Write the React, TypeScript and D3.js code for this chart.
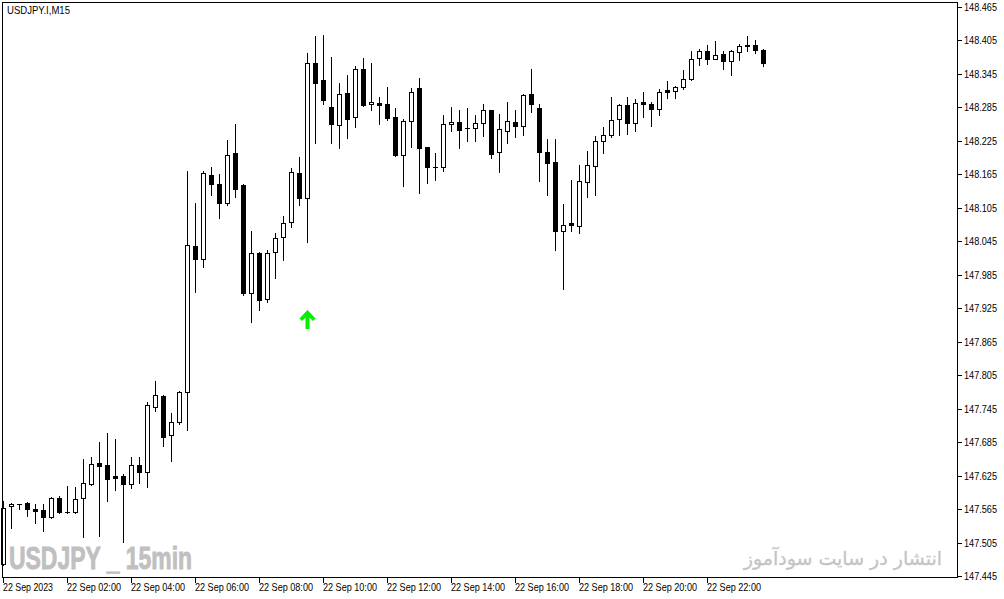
import React from 'react';
import * as d3 from 'd3';

// 15-minute candles, 22 Sep 2023 00:00 .. 23:45
const openValues = [
  147.466, 147.570, 147.574, 147.576, 147.565, 147.563, 147.551, 147.585, 147.560, 147.560,
  147.585, 147.610, 147.648, 147.644, 147.624, 147.624, 147.610, 147.644, 147.631, 147.748,
  147.768, 147.698, 147.721, 147.775, 148.037, 148.013, 148.164, 148.148, 148.114, 148.203,
  148.146, 147.952, 148.024, 147.942, 148.026, 148.053, 148.080, 148.167, 148.123, 148.365,
  148.334, 148.286, 148.253, 148.311, 148.268, 148.354, 148.291, 148.293, 148.291, 148.268,
  148.200, 148.261, 148.320, 148.214, 148.178, 148.178, 148.255, 148.259, 148.248, 148.248,
  148.257, 148.280, 148.205, 148.243, 148.259, 148.252, 148.309, 148.284, 148.205, 148.187,
  148.063, 148.078, 148.072, 148.151, 148.180, 148.225, 148.236, 148.264, 148.289, 148.257,
  148.295, 148.291, 148.282, 148.316, 148.314, 148.322, 148.336, 148.374, 148.386, 148.372,
  148.381, 148.368, 148.384, 148.397, 148.397, 148.388,
];
const highValues = [
  147.579, 147.576, 147.574, 147.578, 147.574, 147.574, 147.587, 147.588, 147.606, 147.605,
  147.655, 147.658, 147.685, 147.701, 147.691, 147.628, 147.658, 147.658, 147.757, 147.795,
  147.769, 147.737, 147.777, 148.171, 148.114, 148.171, 148.178, 148.166, 148.227, 148.255,
  148.148, 148.063, 148.026, 148.029, 148.060, 148.090, 148.176, 148.196, 148.383, 148.413,
  148.415, 148.375, 148.329, 148.343, 148.359, 148.374, 148.365, 148.304, 148.322, 148.284,
  148.264, 148.320, 148.338, 148.214, 148.203, 148.271, 148.286, 148.280, 148.284, 148.271,
  148.291, 148.280, 148.273, 148.295, 148.280, 148.309, 148.354, 148.291, 148.228, 148.228,
  148.112, 148.155, 148.182, 148.207, 148.234, 148.250, 148.304, 148.291, 148.304, 148.300,
  148.313, 148.295, 148.318, 148.332, 148.323, 148.352, 148.386, 148.390, 148.397, 148.404,
  148.386, 148.388, 148.399, 148.413, 148.406, 148.390,
];
const lowValues = [
  147.465, 147.531, 147.565, 147.553, 147.540, 147.526, 147.549, 147.558, 147.558, 147.558,
  147.515, 147.608, 147.517, 147.579, 147.599, 147.506, 147.603, 147.612, 147.605, 147.741,
  147.678, 147.651, 147.717, 147.707, 147.954, 147.999, 148.128, 148.087, 148.110, 148.124,
  147.949, 147.900, 147.922, 147.936, 147.979, 148.011, 148.071, 148.110, 148.044, 148.221,
  148.291, 148.221, 148.212, 148.230, 148.250, 148.288, 148.280, 148.255, 148.262, 148.198,
  148.144, 148.214, 148.132, 148.150, 148.155, 148.171, 148.243, 148.212, 148.225, 148.225,
  148.234, 148.194, 148.169, 148.221, 148.232, 148.236, 148.277, 148.153, 148.128, 148.029,
  147.959, 148.063, 148.060, 148.124, 148.128, 148.203, 148.232, 148.236, 148.237, 148.243,
  148.268, 148.252, 148.271, 148.302, 148.302, 148.318, 148.334, 148.361, 148.363, 148.372,
  148.354, 148.343, 148.370, 148.386, 148.383, 148.359,
];
const closeValues = [
  147.567, 147.574, 147.574, 147.565, 147.561, 147.551, 147.585, 147.560, 147.560, 147.583,
  147.612, 147.646, 147.642, 147.619, 147.621, 147.610, 147.644, 147.631, 147.752, 147.769,
  147.694, 147.721, 147.775, 148.038, 148.013, 148.167, 148.148, 148.114, 148.200, 148.139,
  147.952, 148.024, 147.940, 148.024, 148.051, 148.078, 148.169, 148.123, 148.365, 148.329,
  148.298, 148.255, 148.309, 148.264, 148.354, 148.289, 148.295, 148.289, 148.266, 148.200,
  148.261, 148.313, 148.212, 148.178, 148.178, 148.255, 148.259, 148.245, 148.248, 148.257,
  148.280, 148.202, 148.246, 148.261, 148.252, 148.307, 148.291, 148.205, 148.185, 148.063,
  148.074, 148.074, 148.153, 148.182, 148.225, 148.236, 148.262, 148.289, 148.257, 148.293,
  148.291, 148.282, 148.313, 148.313, 148.322, 148.336, 148.372, 148.386, 148.372, 148.379,
  148.368, 148.386, 148.395, 148.395, 148.388, 148.365,
];

const priceTickLabels = [
  '148.465', '148.405', '148.345', '148.285', '148.225', '148.165', '148.105', '148.045', '147.985',
  '147.925', '147.865', '147.805', '147.745', '147.685', '147.625', '147.565', '147.505', '147.445',
];
const timeTickLabels = [
  '22 Sep 2023', '22 Sep 02:00', '22 Sep 04:00', '22 Sep 06:00', '22 Sep 08:00', '22 Sep 10:00',
  '22 Sep 12:00', '22 Sep 14:00', '22 Sep 16:00', '22 Sep 18:00', '22 Sep 20:00', '22 Sep 22:00',
];
const timeTickBars = [0, 8, 16, 24, 32, 40, 48, 56, 64, 72, 80, 88];

const arrowBars = [38];
const arrowPrices = [147.922];

const titleText = 'USDJPY.I,M15';
const watermarkLeft = 'USDJPY _ 15min';
const watermarkRight = 'انتشار در سایت سودآموز';

export default function App() {
  const W = 1004;
  const H = 599;
  const frame = { l: 2, t: 2, r: 957, b: 577 };

  const x = d3.scaleLinear().domain([0, 119.25]).range([3, 957]);
  const y = d3.scaleLinear().domain([147.445, 148.465]).range([576, 7]);

  const candles = openValues.map((o, i) => ({
    o, h: highValues[i], l: lowValues[i], c: closeValues[i], i,
  }));

  const font = '"Liberation Sans", Arial, sans-serif';

  return (
    <div style={{ position: 'absolute', left: 0, top: 0 }}>
      <svg width={W} height={H} style={{ display: 'block', background: '#fff' }}>
        <rect x={0} y={0} width={W} height={H} fill="#fff" />

        {/* watermarks */}
        <text
          x={9}
          y={569}
          fontFamily={'"Liberation Sans Narrow", "Arial Narrow", "Liberation Sans", Arial, sans-serif'}
          fontWeight="bold"
          fontSize={31}
          fill="#c0c0c0"
          stroke="#c0c0c0"
          strokeWidth={0.9}
          textLength={183}
          lengthAdjust="spacingAndGlyphs"
        >
          {watermarkLeft}
        </text>
        <text
          x={942}
          y={565}
          fontFamily={'"DejaVu Sans", "Noto Sans", sans-serif'}
          fontSize={19}
          fill="#c4c4c4"
          stroke="#c4c4c4"
          strokeWidth={0.3}
          textAnchor="end"
        >
          {watermarkRight}
        </text>

        {/* candles */}
        <g shapeRendering="crispEdges">
          {candles.map((d) => {
            const cx = Math.round(x(d.i));
            const yh = Math.round(y(d.h));
            const yl = Math.round(y(d.l));
            const yo = Math.round(y(d.o));
            const yc = Math.round(y(d.c));
            const top = Math.min(yo, yc);
            const bot = Math.max(yo, yc);
            const bull = d.c > d.o;
            const flat = bot - top < 1;
            return (
              <g key={d.i}>
                <line x1={cx + 0.5} x2={cx + 0.5} y1={yh} y2={yl + 1} stroke="#000" strokeWidth={1} />
                {flat ? (
                  <line x1={cx - 2} x2={cx + 3} y1={top + 0.5} y2={top + 0.5} stroke="#000" strokeWidth={1} />
                ) : (
                  <rect
                    x={cx - 2 + 0.5}
                    y={top + 0.5}
                    width={4}
                    height={bot - top}
                    fill={bull ? '#fff' : '#000'}
                    stroke="#000"
                    strokeWidth={1}
                  />
                )}
              </g>
            );
          })}
        </g>

        {/* signal arrows */}
        {arrowBars.map((b, k) => {
          const cx = x(b) + 0.5;
          const ty = y(arrowPrices[k]);
          const pts = [
            [cx, ty],
            [cx + 8, ty + 8.5],
            [cx + 5.5, ty + 11],
            [cx + 2, ty + 7.5],
            [cx + 2, ty + 19],
            [cx - 2, ty + 19],
            [cx - 2, ty + 7.5],
            [cx - 5.5, ty + 11],
            [cx - 8, ty + 8.5],
          ];
          return <polygon key={b} points={pts.map((p) => p.join(',')).join(' ')} fill="#00f000" />;
        })}

        {/* frame */}
        <rect
          x={frame.l + 0.5}
          y={frame.t + 0.5}
          width={frame.r - frame.l}
          height={frame.b - frame.t}
          fill="none"
          stroke="#000"
          strokeWidth={1}
          shapeRendering="crispEdges"
        />

        {/* price axis */}
        {priceTickLabels.map((lab) => {
          const py = Math.round(y(parseFloat(lab)));
          return (
            <g key={lab}>
              <line x1={958} x2={962} y1={py + 0.5} y2={py + 0.5} stroke="#000" shapeRendering="crispEdges" />
              <text
                x={964}
                y={py + 4}
                fontFamily={font}
                fontSize={10.5}
                fill="#000"
                textLength={33}
                lengthAdjust="spacingAndGlyphs"
              >
                {lab}
              </text>
            </g>
          );
        })}

        {/* time axis */}
        {timeTickLabels.map((lab, k) => {
          const tx = Math.round(x(timeTickBars[k]));
          return (
            <g key={lab}>
              <line x1={tx + 0.5} x2={tx + 0.5} y1={578} y2={583} stroke="#000" shapeRendering="crispEdges" />
              <text
                x={tx}
                y={591}
                fontFamily={font}
                fontSize={10.5}
                fill="#000"
                textLength={k === 0 ? 50 : 54}
                lengthAdjust="spacingAndGlyphs"
              >
                {lab}
              </text>
            </g>
          );
        })}

        {/* title */}
        <text
          x={7}
          y={14}
          fontFamily={font}
          fontSize={11}
          fill="#000"
          textLength={63}
          lengthAdjust="spacingAndGlyphs"
        >
          {titleText}
        </text>
      </svg>
    </div>
  );
}
